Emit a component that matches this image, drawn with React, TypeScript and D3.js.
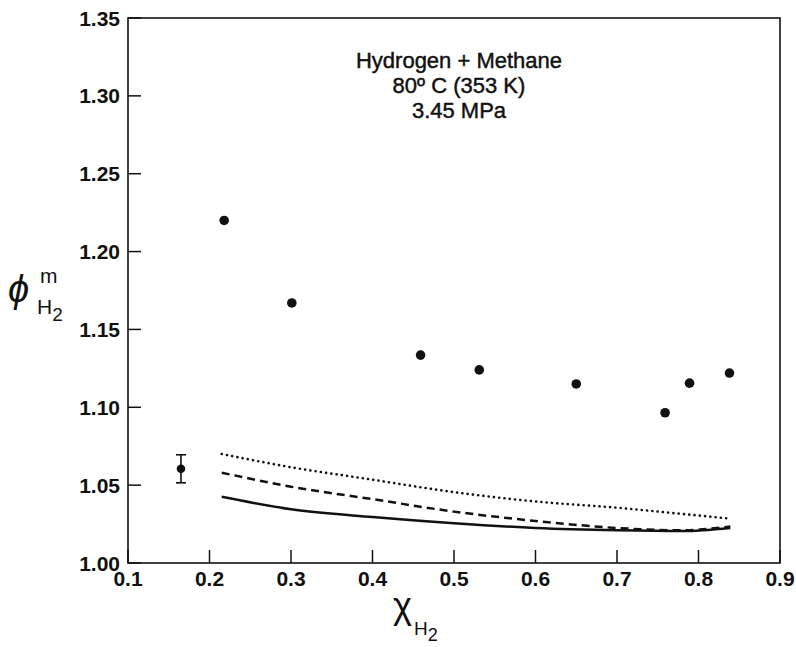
import React from "react";
import * as d3 from "d3";

const xTicks = [0.1, 0.2, 0.3, 0.4, 0.5, 0.6, 0.7, 0.8, 0.9];
const yTicks = [1.0, 1.05, 1.1, 1.15, 1.2, 1.25, 1.3, 1.35];

const expX = [0.218, 0.301, 0.459, 0.531, 0.65, 0.759, 0.789, 0.838];
const expY = [1.22, 1.167, 1.1335, 1.124, 1.115, 1.0965, 1.1155, 1.122];

const errX = 0.165;
const errY = 1.0605;
const errLo = 1.0515;
const errHi = 1.0695;

const curveX = [0.215, 0.3, 0.4, 0.5, 0.6, 0.7, 0.78, 0.839];
const dottedY = [1.07, 1.0615, 1.0535, 1.0455, 1.0395, 1.0355, 1.0315, 1.0285];
const dashedY = [1.058, 1.049, 1.041, 1.033, 1.027, 1.0225, 1.021, 1.0235];
const solidY = [1.0425, 1.0345, 1.0295, 1.0255, 1.0225, 1.021, 1.0205, 1.0225];

const titleLines = ["Hydrogen + Methane", "80º C (353 K)", "3.45 MPa"];

const W = 796;
const H = 647;
const left = 128;
const right = 780;
const top = 18;
const bottom = 563;
const FONT = "'Liberation Sans', Arial, Helvetica, sans-serif";

export default function App() {
  const x = d3.scaleLinear().domain([0.1, 0.9]).range([left, right]);
  const y = d3.scaleLinear().domain([1.0, 1.35]).range([bottom, top]);

  const line = d3
    .line<[number, number]>()
    .x((d) => x(d[0]))
    .y((d) => y(d[1]))
    .curve(d3.curveMonotoneX);

  const mk = (ys: number[]) => line(curveX.map((cx, i) => [cx, ys[i]] as [number, number])) || "";

  return (
    <svg
      width={W}
      height={H}
      style={{ position: "absolute", left: 0, top: 0, background: "#fff" }}
      fontFamily={FONT}
    >
      <rect x={0} y={0} width={W} height={H} fill="#fff" />
      {/* frame */}
      <rect x={left} y={top} width={right - left} height={bottom - top} fill="none" stroke="#111" strokeWidth={1.6} />
      {/* y ticks */}
      {yTicks.map((t) => (
        <g key={"y" + t}>
          <line x1={left} x2={left + 13} y1={y(t)} y2={y(t)} stroke="#111" strokeWidth={1.5} />
          <text x={120} y={y(t)} dy="0.36em" textAnchor="end" fontSize={21} fontWeight="bold" fill="#111">
            {t.toFixed(2)}
          </text>
        </g>
      ))}
      {/* x ticks */}
      {xTicks.map((t) => (
        <g key={"x" + t}>
          <line x1={x(t)} x2={x(t)} y1={bottom} y2={bottom - 13} stroke="#111" strokeWidth={1.5} />
          <text x={x(t)} y={586} textAnchor="middle" fontSize={21} fontWeight="bold" fill="#111">
            {t.toFixed(1)}
          </text>
        </g>
      ))}
      {/* title */}
      {titleLines.map((s, i) => (
        <text
          key={s}
          x={459}
          y={68 + i * 25}
          textAnchor="middle"
          fontSize={22}
          fill="#111"
          stroke="#111"
          strokeWidth={0.45}
        >
          {s}
        </text>
      ))}
      {/* model curves */}
      <path
        d={mk(dottedY)}
        fill="none"
        stroke="#111"
        strokeWidth={2.6}
        strokeLinecap="round"
        strokeDasharray="0.1 5.2"
      />
      <path d={mk(dashedY)} fill="none" stroke="#111" strokeWidth={2.5} strokeDasharray="8 5" />
      <path d={mk(solidY)} fill="none" stroke="#111" strokeWidth={2.5} />
      {/* experimental points */}
      {expX.map((ex, i) => (
        <circle key={"p" + i} cx={x(ex)} cy={y(expY[i])} r={4.8} fill="#111" />
      ))}
      {/* error bar point */}
      <line x1={x(errX)} x2={x(errX)} y1={y(errLo)} y2={y(errHi)} stroke="#111" strokeWidth={1.6} />
      <line x1={x(errX) - 5} x2={x(errX) + 5} y1={y(errLo)} y2={y(errLo)} stroke="#111" strokeWidth={1.6} />
      <line x1={x(errX) - 5} x2={x(errX) + 5} y1={y(errHi)} y2={y(errHi)} stroke="#111" strokeWidth={1.6} />
      <circle cx={x(errX)} cy={y(errY)} r={4.3} fill="#111" />
      {/* y axis label */}
      <text x={8} y={302} fontSize={38} fill="#111" fontStyle="italic">
        ϕ
      </text>
      <text x={40} y={283} fontSize={21} fill="#111">
        m
      </text>
      <text x={37} y={314} fontSize={21} fill="#111">
        H
        <tspan dy={7} fontSize={19}>2</tspan>
      </text>
      {/* x axis label */}
      <text x={393} y={618} fontSize={36} fill="#111">
        χ
      </text>
      <text x={414} y={635} fontSize={19} fill="#111">
        H
        <tspan dy={6} fontSize={18}>2</tspan>
      </text>
    </svg>
  );
}
